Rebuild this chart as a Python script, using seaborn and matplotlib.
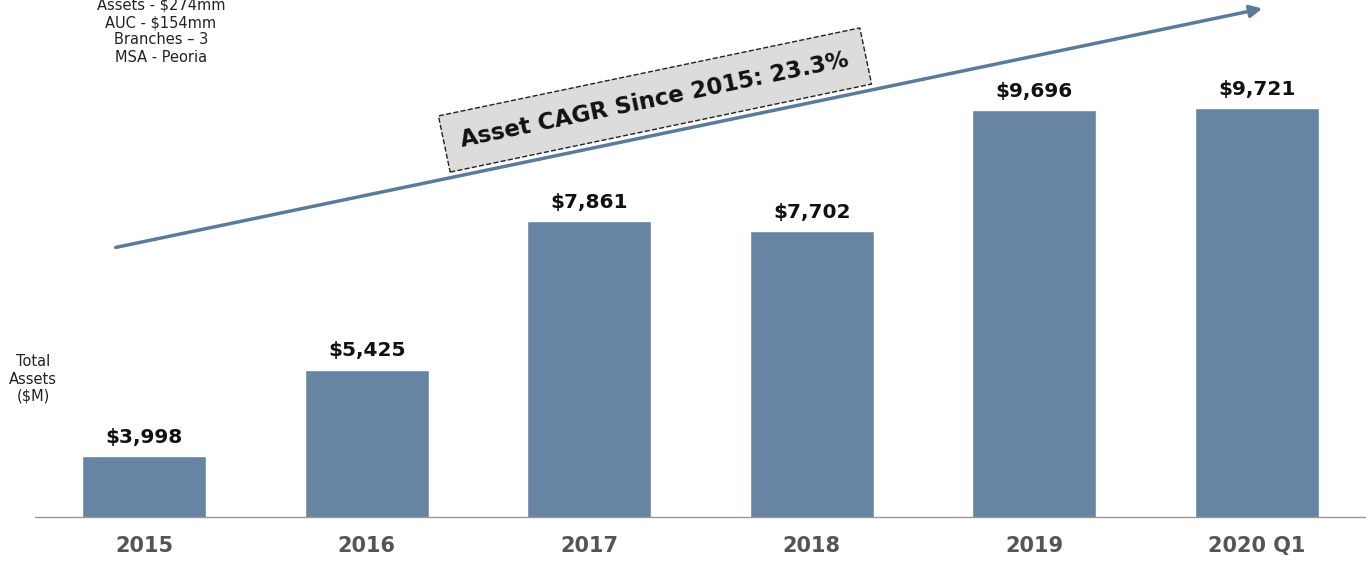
import matplotlib
matplotlib.use("Agg")
import matplotlib.pyplot as plt
import seaborn as sns
import pandas as pd

periods = ["2015", "2016", "2017", "2018", "2019", "2020 Q1"]
total_assets = [3998, 5425, 7861, 7702, 9696, 9721]
info_lines = ["Assets - $274mm", "AUC - $154mm", "Branches \u2013 3", "MSA - Peoria"]
cagr_text = "Asset CAGR Since 2015: 23.3%"

df = pd.DataFrame({"Period": periods, "Assets": total_assets})

sns.set_style("white")
plt.rcParams["font.family"] = ["DejaVu Sans"]

fig = plt.figure(figsize=(13.66, 5.62), dpi=100)
ax = fig.add_axes([35 / 1366, 45 / 562, 1 - 35 / 1366, 1 - 45 / 562])

sns.barplot(data=df, x="Period", y="Assets", color="#6784a2", width=0.557,
            saturation=1, ax=ax)

for i, v in enumerate(total_assets):
    ax.text(i, v + 150, f"${v:,}", ha="center", va="bottom",
            fontsize=14.5, fontweight="bold", color="#111111")

ax.set_ylim(3000, 11500)
ax.set_xlim(-0.49, 5.49)
ax.set_xlabel("")
ax.set_ylabel("")
ax.set_yticks([])
ax.tick_params(axis="x", length=0, pad=14)
for lbl in ax.get_xticklabels():
    lbl.set_fontsize(15)
    lbl.set_fontweight("bold")
    lbl.set_color("#555555")
for s in ["top", "right", "left"]:
    ax.spines[s].set_visible(False)
ax.spines["bottom"].set_color("#999999")
ax.spines["bottom"].set_linewidth(1)

# growth arrow
ax.annotate("", xy=(1265 / 1366, 1 - 8 / 562), xytext=(113 / 1366, 1 - 248 / 562),
            xycoords="figure fraction", textcoords="figure fraction",
            arrowprops=dict(arrowstyle="-|>", color="#5b7b99", lw=2.5,
                            mutation_scale=18))

fig.text(655 / 1366, 1 - 100 / 562, cagr_text, rotation=11.8, ha="center",
         va="center", fontsize=16.5, fontweight="bold", color="#111111",
         rotation_mode="anchor",
         bbox=dict(boxstyle="square,pad=0.75", fc="#dcdcdc", ec="#222222",
                   ls="--", lw=1))

for j, line in enumerate(info_lines):
    fig.text(161 / 1366, 1 - (5 + 17.5 * j) / 562, line, ha="center",
             va="center", fontsize=10.5, color="#222222")

fig.text(33 / 1366, 1 - 379 / 562, "Total\nAssets\n($M)", ha="center",
         va="center", fontsize=10.5, color="#222222", linespacing=1.2)

fig.savefig("out.png", dpi=100)
